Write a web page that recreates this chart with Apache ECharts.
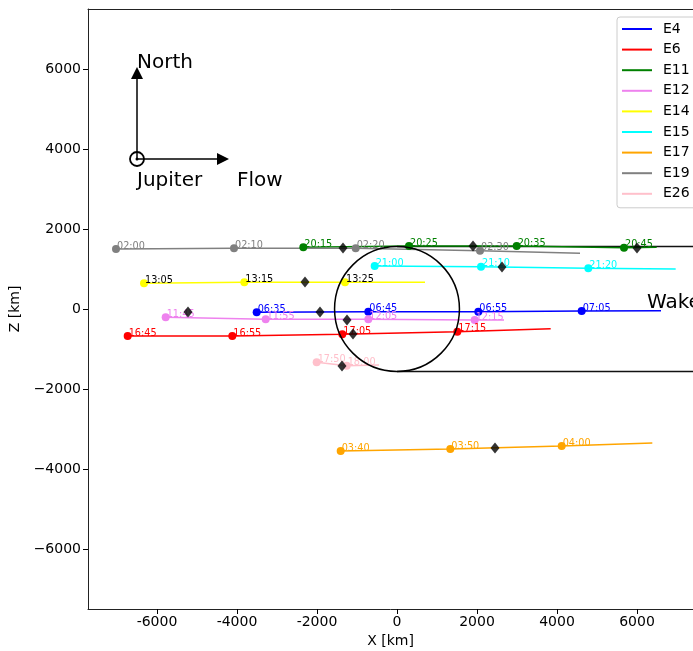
<!DOCTYPE html>
<html>
<head>
<meta charset="utf-8">
<script src="https://cdn.jsdelivr.net/npm/echarts@6/dist/echarts.min.js"></script>
<style>
html,body{margin:0;padding:0;background:#fff;}
#chart{width:693px;height:651px;}
</style>
</head>
<body>
<div id="chart"></div>
<script>
// ---- data (X, Z in km) ----
const seriesNames = ['E4','E6','E11','E12','E14','E15','E17','E19','E26'];
const seriesColors = ['#0000ff','#ff0000','#008000','#ee82ee','#ffff00','#00ffff','#ffa500','#808080','#ffc0cb'];
const labelColors = ['#0000ff','#ff0000','#008000','#ee82ee','#000000','#00ffff','#ffa500','#808080','#ffc0cb'];

const e4Times = ['06:35','06:45','06:55','07:05',''];
const e4X = [-3508, -717, 2033, 4617, 6600];
const e4Z = [-83, -67, -67, -50, -42];

const e6Times = ['16:45','16:55','17:05','17:15',''];
const e6X = [-6733, -4117, -1367, 1508, 3842];
const e6Z = [-675, -675, -633, -567, -492];

const e11Times = ['20:15','20:25','20:35','20:45',''];
const e11X = [-2342, 300, 2992, 5675, 6492];
const e11Z = [1542, 1575, 1575, 1533, 1542];

const e12Times = ['11:45','11:55','12:05','12:15',''];
const e12X = [-5783, -3283, -717, 1942, 2675];
const e12Z = [-208, -258, -258, -275, -275];

const e14Times = ['13:05','13:15','13:25',''];
const e14X = [-6325, -3817, -1300, 700];
const e14Z = [642, 667, 667, 667];

const e15Times = ['21:00','21:10','21:20',''];
const e15X = [-558, 2100, 4783, 6967];
const e15Z = [1075, 1058, 1017, 1000];

const e17Times = ['03:40','03:50','04:00',''];
const e17X = [-1408, 1333, 4117, 6383];
const e17Z = [-3550, -3500, -3425, -3350];

const e19Times = ['02:00','02:10','02:20','02:30',''];
const e19X = [-7025, -4075, -1033, 2075, 4575];
const e19Z = [1500, 1517, 1517, 1458, 1392];

const e26Times = ['17:50','18:00',''];
const e26X = [-2008, -1258, -450];
const e26Z = [-1333, -1417, -1400];

const diamondX = [-1350, 1900, 6000, -2300, -1925, -1250, -1100, -5225, -1375, 2625, 2450];
const diamondZ = [1525, 1575, 1525, 675, -75, -275, -625, -75, -1425, 1050, -3475];

const europaR = 1561;
const wakeXEnd = 7750;
const xTicks = [-6000, -4000, -2000, 0, 2000, 4000, 6000];
const yTicks = [-6000, -4000, -2000, 0, 2000, 4000, 6000];

const flybys = [
  [e4Times, e4X, e4Z], [e6Times, e6X, e6Z], [e11Times, e11X, e11Z],
  [e12Times, e12X, e12Z], [e14Times, e14X, e14Z], [e15Times, e15X, e15Z],
  [e17Times, e17X, e17Z], [e19Times, e19X, e19Z], [e26Times, e26X, e26Z]
];

const FONT = 'DejaVu Sans';

const series = flybys.map((f, k) => {
  const [times, xs, zs] = f;
  const data = xs.map((x, i) => times[i]
    ? { value: [x, zs[i]] }
    : { value: [x, zs[i]], symbol: 'none', label: { show: false } });
  return {
    name: seriesNames[k],
    type: 'line',
    data: data,
    color: seriesColors[k],
    symbol: 'circle',
    symbolSize: 8,
    showAllSymbol: true,
    lineStyle: { width: 1.5, color: seriesColors[k] },
    itemStyle: { color: seriesColors[k] },
    label: {
      show: true,
      formatter: p => times[p.dataIndex] || '',
      position: [5, 6],
      align: 'left',
      verticalAlign: 'bottom',
      color: labelColors[k],
      fontSize: 9.7,
      fontFamily: FONT
    },
    emphasis: { disabled: true },
    z: 3
  };
});

// wake boundary lines
series.push({
  type: 'line', name: 'wakeTop', data: [[0, europaR], [wakeXEnd, europaR]],
  symbol: 'none', lineStyle: { color: '#111', width: 1.5 }, silent: true, z: 2
});
series.push({
  type: 'line', name: 'wakeBottom', data: [[0, -europaR], [wakeXEnd, -europaR]],
  symbol: 'none', lineStyle: { color: '#111', width: 1.5 }, silent: true, z: 2
});

// diamonds
series.push({
  type: 'scatter', name: 'markers',
  data: diamondX.map((x, i) => [x, diamondZ[i]]),
  symbol: 'diamond', symbolSize: [9, 11],
  itemStyle: { color: '#000' }, silent: true, z: 5
});

// Europa circle, compass arrows and text annotations
const arrowOrigin = [-6500, 3750];
const northTip = [-6500, 6050];
const flowTip = [-4200, 3750];
series.push({
  type: 'custom', name: 'annot', coordinateSystem: 'cartesian2d',
  data: [[0, 0]], silent: true, z: 4, clip: false,
  renderItem: (params, api) => {
    const c = api.coord([0, 0]);
    const r = api.size([europaR, 0])[0];
    const o = api.coord(arrowOrigin);
    const n = api.coord(northTip);
    const f = api.coord(flowTip);
    const hl = 12, hw = 6;
    const txt = (s, p, size) => ({
      type: 'text', x: p[0], y: p[1],
      style: { text: s, fill: '#000', fontSize: size, fontFamily: FONT, align: 'left', verticalAlign: 'middle' }
    });
    return {
      type: 'group',
      children: [
        { type: 'circle', shape: { cx: c[0], cy: c[1], r: r }, style: { fill: 'none', stroke: '#000', lineWidth: 1.5 } },
        { type: 'line', shape: { x1: o[0], y1: o[1], x2: n[0], y2: n[1] + hl }, style: { stroke: '#000', lineWidth: 1.5 } },
        { type: 'polygon', shape: { points: [[n[0], n[1]], [n[0] - hw, n[1] + hl], [n[0] + hw, n[1] + hl]] }, style: { fill: '#000' } },
        { type: 'line', shape: { x1: o[0], y1: o[1], x2: f[0] - hl, y2: f[1] }, style: { stroke: '#000', lineWidth: 1.5 } },
        { type: 'polygon', shape: { points: [[f[0], f[1]], [f[0] - hl, f[1] - hw], [f[0] - hl, f[1] + hw]] }, style: { fill: '#000' } },
        { type: 'circle', shape: { cx: o[0], cy: o[1], r: 7 }, style: { fill: 'none', stroke: '#000', lineWidth: 1.8 } },
        { type: 'circle', shape: { cx: o[0], cy: o[1], r: 1.5 }, style: { fill: '#000' } },
        txt('North', api.coord([-6500, 6150]), 20),
        txt('Jupiter', api.coord([-6500, 3200]), 20),
        txt('Flow', api.coord([-4000, 3200]), 20),
        txt('Wake', api.coord([6250, 150]), 20)
      ]
    };
  }
});

const X_MIN = -7725, X_MAX = 7400, Y_MIN = -7500, Y_MAX = 7500;
const spine = { show: true, onZero: false, lineStyle: { color: '#222', width: 1 } };

const chart = echarts.init(document.getElementById('chart'), null, { renderer: 'canvas' });
chart.setOption({
  animation: false,
  backgroundColor: '#fff',
  grid: { left: 88, top: 9, right: 0, bottom: 42, show: false, containLabel: false, outerBoundsMode: 'none' },
  legend: {
    data: seriesNames,
    orient: 'vertical',
    left: 617, top: 17,
    icon: 'rect',
    itemWidth: 30, itemHeight: 2,
    itemGap: 6.6,
    padding: [5, 30, 7, 5],
    backgroundColor: '#fff',
    borderColor: '#cccccc', borderWidth: 1, borderRadius: 3,
    textStyle: { fontFamily: FONT, fontSize: 14, color: '#000', lineHeight: 14, padding: [0, 0, 0, 6] },
    selectedMode: false
  },
  xAxis: [{
    type: 'value', min: X_MIN, max: X_MAX, position: 'bottom',
    name: 'X [km]', nameLocation: 'middle', nameGap: 24,
    nameTextStyle: { fontFamily: FONT, fontSize: 14, color: '#000' },
    axisLine: spine,
    axisTick: { show: true, length: 5, lineStyle: { color: '#000' }, customValues: xTicks },
    axisLabel: { customValues: xTicks, margin: 6, fontFamily: FONT, fontSize: 14, color: '#000', formatter: v => String(v) },
    splitLine: { show: false }
  }, {
    type: 'value', min: X_MIN, max: X_MAX, position: 'top',
    axisLine: spine, axisTick: { show: false }, axisLabel: { show: false }, splitLine: { show: false }
  }],
  yAxis: {
    type: 'value', min: Y_MIN, max: Y_MAX,
    name: 'Z [km]', nameLocation: 'middle', nameGap: 57,
    nameTextStyle: { fontFamily: FONT, fontSize: 14, color: '#000' },
    axisLine: spine,
    axisTick: { show: true, length: 5, lineStyle: { color: '#000' }, customValues: yTicks },
    axisLabel: { customValues: yTicks, margin: 7, fontFamily: FONT, fontSize: 14, color: '#000',
      formatter: v => v < 0 ? '\u2212' + Math.abs(v) : String(v) },
    splitLine: { show: false }
  },
  series: series
});
</script>
</body>
</html>
